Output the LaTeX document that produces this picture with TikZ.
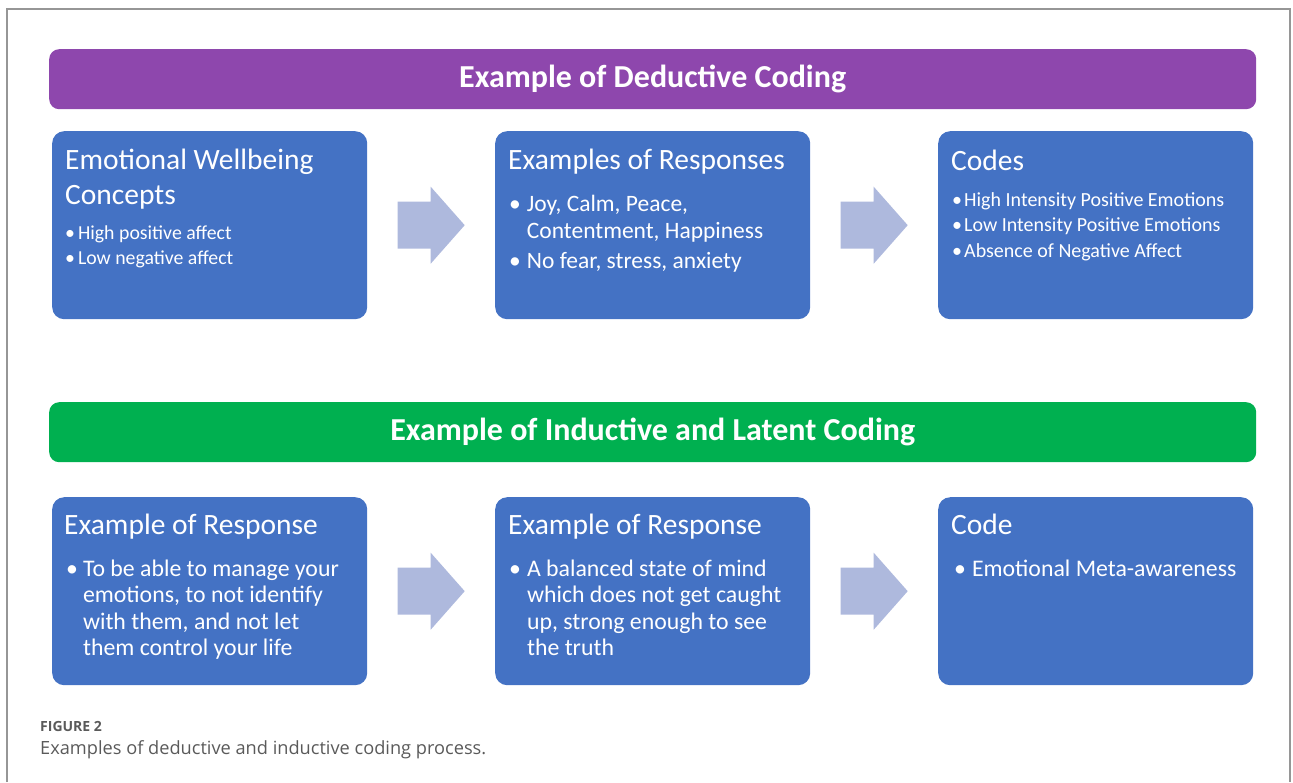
\documentclass[tikz,border=0pt]{standalone}
\usepackage{fontspec}
\setmainfont{Carlito}
\newfontfamily\capfont{Open Sans}
\usetikzlibrary{calc}

\definecolor{boxblue}{RGB}{68,114,196}
\definecolor{barpurple}{RGB}{142,71,173}
\definecolor{bargreen}{RGB}{0,176,80}
\definecolor{arrowfill}{RGB}{174,185,221}
\definecolor{capgray}{RGB}{90,90,90}
\definecolor{framegray}{RGB}{150,150,150}

\tikzset{
  box/.style={fill=boxblue, rounded corners=12pt, minimum width=315pt, minimum height=188pt, anchor=north west, inner sep=0pt},
  bar/.style={rounded corners=10pt, minimum width=1207pt, minimum height=60pt, anchor=north west, inner sep=0pt, text=white, font=\bfseries\fontsize{32}{36}\selectfont},
  head/.style={anchor=base west, inner sep=0pt, text=white, font=\fontsize{29.5}{35}\selectfont},
  body/.style={anchor=base west, inner sep=0pt, text=white},
}
\def\blockarrow(#1)(#2){\fill[arrowfill] ($(#1.east)!0.5!(#2.west)$) ++(-33.5,-23.5) -- ++(33,0) -- ++(0,-15) -- ++(34,38.5) -- ++(-34,38.5) -- ++(0,-15) -- ++(-33,0) -- cycle;}

\begin{document}
\begin{tikzpicture}[x=1pt,y=-1pt]
  \useasboundingbox (0,0) rectangle (1293,782);
  \draw[framegray, line width=1.2pt] (7,782) -- (7,9) -- (1290,9) -- (1290,782);

  %%%%% deductive %%%%%
  \node[bar, fill=barpurple] (deductive) at (49,49) {Example of Deductive Coding};

  \node[box] (concepts) at (52,131) {};
  \node[box] (responses) at (495,131) {};
  \node[box] (codes) at (938,131) {};

  \node[head] (conceptshd) at ($(concepts.north west)+(13,38)$)
    {\begin{tabular}[t]{@{}l@{}}Emotional Wellbeing\\Concepts\end{tabular}};
  \node[body, font=\fontsize{19.8}{25.5}\selectfont] (conceptsbd) at ($(concepts.north west)+(13,108)$)
    {\begin{tabular}[t]{@{}l@{\hspace{3pt}}l@{}}•&High positive affect\\•&Low negative affect\end{tabular}};

  \node[head] (responseshd) at ($(responses.north west)+(13,38)$) {Examples of Responses};
  \node[body, font=\fontsize{23.5}{27}\selectfont] (responsesbd) at ($(responses.north west)+(14,80)$)
    {\begin{tabular}[t]{@{}l@{\hspace{6pt}}l@{}}•&Joy, Calm, Peace,\\&Contentment,\ Happiness\\[3pt]•&No fear, stress, anxiety\end{tabular}};

  \node[head] (codeshd) at ($(codes.north west)+(13,39)$) {Codes};
  \node[body, font=\fontsize{20}{25.5}\selectfont] (codesbd) at ($(codes.north west)+(14,75)$)
    {\begin{tabular}[t]{@{}l@{\hspace{2pt}}l@{}}•&High Intensity Positive Emotions\\•&Low Intensity Positive Emotions\\•&Absence of Negative Affect\end{tabular}};

  \blockarrow(concepts)(responses)
  \blockarrow(responses)(codes)

  %%%%% inductive %%%%%
  \node[bar, fill=bargreen] (inductive) at (49,402) {Example of Inductive and Latent Coding};

  \node[box] (response) at (52,497) {};
  \node[box] (response2) at (495,497) {};
  \node[box] (code) at (938,497) {};

  \node[head] (responsehd) at ($(response.north west)+(12,37)$) {Example of Response};
  \node[body, font=\fontsize{23.8}{26.5}\selectfont] (responsebd) at ($(response.north west)+(14,79)$)
    {\begin{tabular}[t]{@{}l@{\hspace{5pt}}l@{}}•&To be able to manage your\\&emotions,\ to not identify\\&with them, and not let\\&them control your life\end{tabular}};

  \node[head] (response2hd) at ($(response2.north west)+(13,37)$) {Example of Response};
  \node[body, font=\fontsize{23.8}{26.5}\selectfont] (response2bd) at ($(response2.north west)+(14,79)$)
    {\begin{tabular}[t]{@{}l@{\hspace{6pt}}l@{}}•&A balanced state of mind\\&which does not get caught\\&up, strong enough to see\\&the truth\end{tabular}};

  \node[head] (codehd) at ($(code.north west)+(13,37)$) {Code};
  \node[body, font=\fontsize{23.8}{26.5}\selectfont] (codebd) at ($(code.north west)+(16,79)$)
    {\begin{tabular}[t]{@{}l@{\hspace{6pt}}l@{}}•&Emotional\ Meta-awareness\end{tabular}};

  \blockarrow(response)(response2)
  \blockarrow(response2)(code)

  %%%%% caption %%%%%
  \node[anchor=base west, inner sep=0pt, text=capgray, font=\capfont\bfseries\fontsize{14}{16}\selectfont] (fig) at (40,731) {FIGURE 2};
  \node[anchor=base west, inner sep=0pt, text=capgray, font=\capfont\fontsize{18.2}{21}\selectfont] (caption) at (40,754) {Examples of deductive and inductive coding process.};
\end{tikzpicture}
\end{document}
